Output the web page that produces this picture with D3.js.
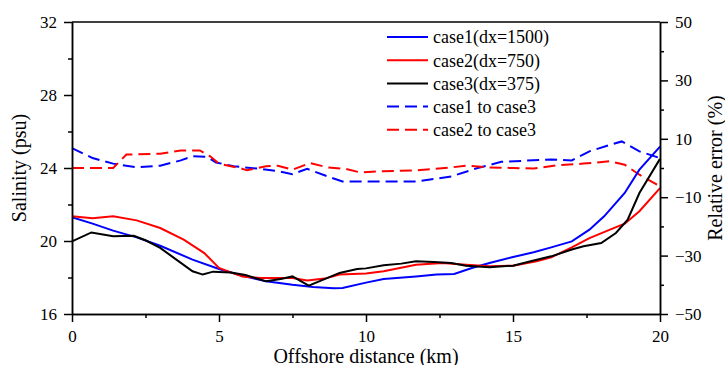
<!DOCTYPE html>
<html>
<head>
<meta charset="utf-8">
<script src="https://cdn.jsdelivr.net/npm/d3@7"></script>
<style>
  body { margin: 0; background: #fff; }
  svg { display: block; }
  svg text { font-family: "Liberation Serif", Tinos, "Times New Roman", Times, "DejaVu Serif", serif; }
</style>
</head>
<body>
<svg id="chart" width="725" height="365"></svg>
<script>
// ---- data ----
// salinity (psu) along offshore distance (km)
var case1X = [0, 0.7, 1.4, 2.2, 3.0, 4.1, 5.0, 5.8, 6.6, 7.5, 8.2, 8.9, 9.2, 10.0, 10.6, 11.7, 12.4, 13.0, 13.6, 14.2, 15.0, 15.7, 16.3, 17.0, 17.6, 18.1, 18.8, 19.3, 20];
var case1S = [21.3, 20.95, 20.57, 20.2, 19.74, 18.98, 18.47, 18.1, 17.79, 17.6, 17.48, 17.41, 17.42, 17.72, 17.92, 18.06, 18.16, 18.19, 18.52, 18.79, 19.12, 19.38, 19.65, 19.98, 20.62, 21.35, 22.63, 23.91, 25.17];

var case2X = [0, 0.7, 1.4, 2.2, 3.0, 3.8, 4.5, 5.0, 5.4, 5.8, 6.4, 7.5, 8.0, 8.6, 9.1, 10.0, 10.6, 11.7, 12.6, 13.4, 14.2, 15.0, 15.8, 16.3, 17.0, 17.6, 18.3, 18.8, 19.3, 20];
var case2S = [21.35, 21.24, 21.35, 21.13, 20.71, 20.07, 19.34, 18.52, 18.28, 18.06, 17.97, 17.97, 17.84, 17.94, 18.16, 18.22, 18.34, 18.7, 18.79, 18.7, 18.61, 18.65, 18.89, 19.1, 19.65, 20.16, 20.62, 20.95, 21.63, 22.9];

var case3X = [0, 0.66, 1.4, 2.1, 2.5, 3.0, 3.55, 4.1, 4.45, 4.8, 5.4, 5.9, 6.6, 7.1, 7.5, 8.05, 8.55, 9.1, 9.7, 10.0, 10.6, 11.2, 11.7, 12.3, 12.9, 13.4, 14.2, 15.0, 15.6, 16.3, 17.0, 17.4, 18.0, 18.5, 18.9, 19.3, 20];
var case3S = [19.98, 20.47, 20.26, 20.29, 20.04, 19.62, 18.98, 18.34, 18.16, 18.32, 18.28, 18.14, 17.79, 17.92, 18.06, 17.55, 17.88, 18.25, 18.47, 18.5, 18.67, 18.76, 18.89, 18.85, 18.79, 18.65, 18.56, 18.65, 18.89, 19.16, 19.53, 19.71, 19.89, 20.44, 21.17, 22.63, 24.5];

// relative error (%) against case3
var err1X = [0, 0.7, 1.4, 2.2, 3.0, 3.7, 4.1, 4.6, 4.9, 5.5, 6.4, 7.0, 7.5, 8.0, 8.7, 9.2, 10.0, 10.6, 11.7, 12.9, 13.8, 14.6, 15.4, 16.3, 17.0, 17.6, 18.2, 18.7, 19.3, 20];
var err1E = [6.8, 3.4, 1.5, 0.2, 0.8, 2.6, 4.0, 3.8, 1.9, 0.6, -0.3, -1.1, -2.1, -0.3, -2.9, -4.6, -4.6, -4.6, -4.6, -2.9, 0, 2.1, 2.5, 2.9, 2.6, 5.7, 7.6, 9.1, 5.7, 3.4];

var err2X = [0, 1.4, 1.85, 3.0, 3.7, 4.35, 4.7, 5.0, 5.7, 5.95, 6.6, 7.0, 7.5, 8.1, 8.7, 9.3, 9.8, 10.6, 11.7, 12.9, 13.4, 14.2, 15.0, 15.7, 16.5, 17.4, 18.3, 18.8, 19.3, 20];
var err2E = [0, 0, 4.6, 4.9, 6.0, 6.0, 4.0, 1.5, 0, -0.8, 0.6, 0.8, -0.6, 1.7, 0.2, -0.3, -1.5, -1.1, -0.8, 0.2, 0.8, 0.2, 0, -0.2, 0.9, 1.5, 2.3, 1.1, -2.3, -6.3];

var xTicks = [0, 5, 10, 15, 20];
var xMinorTicks = [2.5, 7.5, 12.5, 17.5];
var sTicks = [16, 20, 24, 28, 32];
var sMinorTicks = [18, 22, 26, 30];
var eTicks = [-50, -30, -10, 10, 30, 50];
var eMinorTicks = [-40, -20, 0, 20, 40];

var legendNames = ["case1(dx=1500)", "case2(dx=750)", "case3(dx=375)", "case1 to case3", "case2 to case3"];

// ---- layout ----
var plotLeft = 72, plotRight = 660, plotTop = 22, plotBottom = 314;
var serif = '"Liberation Serif", Tinos, "Times New Roman", Times, "DejaVu Serif", serif';

var svg = d3.select("#chart");

var xScale = d3.scaleLinear().domain([0, 20]).range([plotLeft, plotRight]);
var sScale = d3.scaleLinear().domain([16, 32]).range([plotBottom, plotTop]);
var eScale = d3.scaleLinear().domain([-50, 50]).range([plotBottom, plotTop]);

function zip(xs, ys) { return xs.map(function(x, i) { return [x, ys[i]]; }); }

var series = [
  { name: legendNames[3], pts: zip(err1X, err1E), y: eScale, color: "#0000ff", dash: "12,6" },
  { name: legendNames[4], pts: zip(err2X, err2E), y: eScale, color: "#ff0000", dash: "12,6" },
  { name: legendNames[0], pts: zip(case1X, case1S), y: sScale, color: "#0000ff", dash: null },
  { name: legendNames[1], pts: zip(case2X, case2S), y: sScale, color: "#ff0000", dash: null },
  { name: legendNames[2], pts: zip(case3X, case3S), y: sScale, color: "#000000", dash: null }
];

var gLines = svg.append("g").attr("class", "lines");
series.forEach(function(s) {
  var line = d3.line()
    .x(function(d) { return xScale(d[0]); })
    .y(function(d) { return s.y(d[1]); });
  gLines.append("path")
    .datum(s.pts)
    .attr("d", line)
    .attr("fill", "none")
    .attr("stroke", s.color)
    .attr("stroke-width", 2)
    .attr("stroke-dasharray", s.dash);
});

// ---- axes ----
function styleAxis(g) {
  g.attr("font-family", serif).attr("font-size", 17);
  g.selectAll("path, line").attr("stroke", "#000").attr("stroke-width", 1.5);
  g.selectAll("text").attr("fill", "#000").attr("font-family", serif).attr("font-size", 17);
}

svg.append("g")
  .attr("transform", "translate(0," + plotBottom + ")")
  .call(d3.axisBottom(xScale).tickValues(xTicks).tickSize(8).tickSizeOuter(0).tickPadding(8))
  .call(styleAxis);
svg.append("g")
  .attr("transform", "translate(0," + plotBottom + ")")
  .call(d3.axisBottom(xScale).tickValues(xMinorTicks).tickSize(4).tickSizeOuter(0).tickFormat(""))
  .call(styleAxis);

svg.append("g")
  .attr("transform", "translate(" + plotLeft + ",0)")
  .call(d3.axisLeft(sScale).tickValues(sTicks).tickSize(8).tickSizeOuter(0).tickPadding(7))
  .call(styleAxis);
svg.append("g")
  .attr("transform", "translate(" + plotLeft + ",0)")
  .call(d3.axisLeft(sScale).tickValues(sMinorTicks).tickSize(4).tickSizeOuter(0).tickFormat(""))
  .call(styleAxis);

svg.append("g")
  .attr("transform", "translate(" + plotRight + ",0)")
  .call(d3.axisRight(eScale).tickValues(eTicks).tickSize(8).tickSizeOuter(0).tickPadding(7))
  .call(styleAxis);
svg.append("g")
  .attr("transform", "translate(" + plotRight + ",0)")
  .call(d3.axisRight(eScale).tickValues(eMinorTicks).tickSize(4).tickSizeOuter(0).tickFormat(""))
  .call(styleAxis);

// top frame line
svg.append("line")
  .attr("x1", plotLeft).attr("x2", plotRight)
  .attr("y1", plotTop).attr("y2", plotTop)
  .attr("stroke", "#000").attr("stroke-width", 1.5);

// axis titles
svg.append("text")
  .attr("transform", "translate(26," + (plotTop + plotBottom) / 2 + ") rotate(-90)")
  .attr("text-anchor", "middle")
  .attr("font-family", serif)
  .attr("font-size", 20)
  .text("Salinity (psu)");

svg.append("text")
  .attr("transform", "translate(722," + (plotTop + plotBottom) / 2 + ") rotate(-90)")
  .attr("text-anchor", "middle")
  .attr("font-family", serif)
  .attr("font-size", 20)
  .text("Relative error (%)");

svg.append("text")
  .attr("x", (plotLeft + plotRight) / 2)
  .attr("y", 363)
  .attr("text-anchor", "middle")
  .attr("font-family", serif)
  .attr("font-size", 20)
  .text("Offshore distance (km)");

// ---- legend ----
var legendOrder = [series[2], series[3], series[4], series[0], series[1]];
var gLegend = svg.append("g").attr("transform", "translate(387,37)");
legendOrder.forEach(function(s, i) {
  var row = gLegend.append("g").attr("transform", "translate(0," + (i * 23.2) + ")");
  row.append("line")
    .attr("x1", 0).attr("x2", 41)
    .attr("stroke", s.color)
    .attr("stroke-width", 2)
    .attr("stroke-dasharray", s.dash);
  row.append("text")
    .attr("x", 46)
    .attr("dy", "0.35em")
    .attr("font-family", serif)
    .attr("font-size", 18)
    .text(s.name);
});
</script>
</body>
</html>
